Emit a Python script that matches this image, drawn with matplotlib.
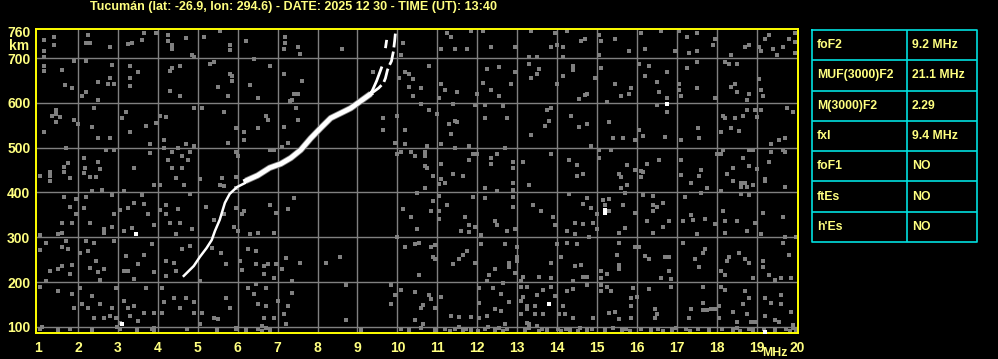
import matplotlib
matplotlib.use("Agg")
import matplotlib.pyplot as plt

plt.rcParams['font.family'] = ['Liberation Sans', 'DejaVu Sans']

title = "Tucumán (lat: -26.9, lon: 294.6) - DATE: 2025 12 30 - TIME (UT): 13:40"

freq_ticks = list(range(1, 21))
height_ticks = [100, 200, 300, 400, 500, 600, 700, 760]

# main echo trace (MHz, km)
trace_low_mhz = [4.65, 4.9, 5.05, 5.22, 5.35, 5.43, 5.55, 5.68, 5.8, 5.98, 6.18]
trace_low_km = [214, 236, 256, 276, 294, 314, 339, 377, 397, 412, 421]
trace_mid_mhz = [6.2, 6.5, 6.8, 7.08, 7.33, 7.58, 7.83, 8.08, 8.33, 8.58, 8.83, 9.08, 9.33]
trace_mid_km = [426, 438, 455, 464, 477, 495, 521, 544, 566, 577, 588, 604, 620]
branch_o_mhz = [9.33, 9.38, 9.48, 9.55, 9.6]
branch_o_km = [620, 629, 649, 666, 678]
branch_o_top_mhz = [9.7, 9.73, 9.75]
branch_o_top_km = [722, 740, 760]
branch_x_mhz = [9.33, 9.53, 9.65, 9.7, 9.75, 9.8, 9.85, 9.9, 9.93, 9.95]
branch_x_km = [620, 633, 644, 655, 673, 684, 693, 715, 738, 756]

# scattered interference dots (MHz, km)
noise_top_left = [
    (1.15, 740), (1.4, 747), (1.4, 729), (1.15, 715), (1.15, 702), (2.25, 751), (2.2, 733), (2.3, 733),
    (2.8, 724), (3.25, 731), (3.35, 733), (3.6, 740), (3.65, 756), (3.95, 756), (4.25, 751), (4.25, 738),
    (4.35, 729), (4.35, 720), (4.7, 744), (4.85, 707), (4.9, 702), (5.15, 747), (5.55, 760), (5.8, 729),
    (5.8, 718), (6.2, 738), (7.18, 747), (7.18, 733), (7.15, 720),
    (1.15, 682), (1.15, 671), (1.6, 673), (1.9, 693), (2.2, 693), (2.85, 684), (2.5, 646), (2.8, 655),
    (2.75, 642), (2.9, 642), (1.68, 640), (1.85, 633), (2.1, 615), (2.2, 624), (2.5, 606), (3.3, 682),
    (3.5, 669), (3.3, 655), (3.3, 637), (4.35, 678), (4.55, 682), (4.3, 671), (4.3, 626), (4.55, 615),
    (5.3, 686), (5.4, 691), (5.85, 660), (5.8, 664), (5.85, 649), (5.5, 635), (5.75, 615), (6.4, 698),
    (6.3, 640), (6.8, 682), (6.5, 611), (7.15, 664), (7.3, 604),
    (1.45, 584), (1.35, 571), (1.45, 575), (1.55, 568), (1.45, 557), (1.9, 562), (2.0, 553), (1.15, 535),
    (2.4, 588), (2.35, 546), (2.5, 521), (2.8, 521), (3.2, 579), (3.1, 566), (3.3, 535), (3.7, 548),
    (3.95, 555), (3.8, 508), (4.2, 568), (4.05, 571), (4.15, 517), (4.9, 588), (4.9, 504), (4.7, 508),
    (5.1, 588), (5.65, 579), (5.95, 544), (5.75, 510), (6.15, 535), (6.15, 517), (6.5, 544), (6.7, 571),
    (6.75, 562), (7.15, 546), (7.25, 510), (7.1, 501),
    (1.7, 499), (2.15, 477), (1.75, 466), (1.65, 457), (1.65, 446), (1.3, 446), (1.3, 437), (1.05, 437),
    (1.8, 432), (2.18, 455), (2.15, 443), (2.3, 435), (2.45, 435), (2.5, 468), (2.55, 452), (2.7, 495),
    (2.9, 495), (3.4, 455), (3.8, 488), (4.15, 499), (4.35, 490), (4.25, 472), (4.35, 455), (4.6, 481),
    (4.8, 490), (4.75, 472), (4.6, 455), (4.5, 499), (4.45, 432), (5.05, 430), (5.6, 432), (5.95, 490),
    (5.95, 435), (6.0, 481), (6.8, 495), (6.9, 495),
]
noise_top_mid = [
    (7.5, 724), (7.55, 709), (8.6, 720), (10.15, 733), (10.1, 707), (11.25, 756), (11.35, 747), (11.85, 760),
    (12.15, 760), (11.45, 720), (11.75, 720), (11.1, 720), (12.35, 724), (12.95, 724), (13.35, 760),
    (9.4, 669), (7.6, 649), (7.4, 620), (7.5, 620), (7.35, 606), (10.2, 669), (10.3, 664), (10.4, 653),
    (10.3, 635), (10.05, 655), (10.6, 633), (10.4, 615), (10.8, 682), (11.1, 642), (11.2, 629), (11.5, 624),
    (11.05, 611), (12.25, 675), (12.55, 680), (12.15, 644), (12.35, 629), (12.55, 615), (12.85, 642),
    (12.95, 669), (13.3, 702), (13.5, 702), (13.3, 686), (13.55, 675), (13.5, 664), (13.35, 655), (12.0, 620),
    (7.45, 588), (7.5, 562), (9.65, 566), (9.65, 539), (10.0, 571), (10.2, 539), (10.6, 597), (10.8, 584),
    (11.0, 575), (11.3, 553), (11.45, 559), (11.5, 557), (11.4, 597), (11.35, 530), (11.95, 595), (12.2, 595),
    (12.2, 566), (12.65, 593), (12.75, 566), (13.35, 528), (9.95, 510), (10.2, 508), (10.75, 504),
    (11.1, 508), (11.8, 504),
    (10.1, 490), (10.35, 490), (10.45, 481), (10.7, 490), (10.7, 481), (10.0, 486), (10.7, 459), (10.75, 455),
    (10.9, 437), (11.1, 463), (11.4, 441), (11.65, 437), (11.45, 499), (11.9, 486), (11.8, 472), (12.0, 486),
    (12.35, 477), (12.35, 463), (12.5, 486), (12.7, 499), (12.9, 468), (12.9, 455), (13.15, 468), (11.1, 430),
]
noise_top_right = [
    (13.95, 756), (14.25, 760), (14.15, 724), (13.85, 724), (14.0, 729), (14.15, 702), (14.6, 738),
    (14.7, 742), (15.05, 751), (15.1, 738), (15.05, 707), (15.45, 742), (15.8, 715), (16.1, 756), (16.2, 720),
    (16.6, 760), (16.95, 715), (17.05, 760), (17.25, 747), (17.5, 756), (17.3, 711), (17.5, 715), (17.95, 742),
    (17.9, 729), (18.35, 707), (18.7, 724), (18.8, 729), (19.1, 715), (19.2, 742), (19.3, 751), (19.4, 720),
    (19.65, 724), (19.5, 707), (19.8, 742), (19.95, 756), (19.95, 736), (19.95, 711), (19.05, 724),
    (14.4, 682), (14.4, 673), (14.15, 660), (14.0, 642), (14.95, 655), (15.1, 678), (14.55, 608), (14.7, 617),
    (14.75, 620), (15.45, 642), (15.6, 615), (15.85, 633), (15.8, 620), (15.25, 602), (16.05, 686),
    (16.3, 682), (16.2, 660), (16.5, 646), (16.55, 624), (16.75, 669), (16.75, 611), (17.05, 642),
    (17.05, 629), (17.1, 615), (17.25, 678), (17.5, 691), (17.5, 633), (17.95, 611), (18.2, 691), (18.3, 686),
    (18.5, 686), (18.35, 635), (18.45, 642), (18.5, 624), (18.8, 620), (18.75, 606), (19.05, 653),
    (19.1, 629), (19.15, 615),
    (13.85, 588), (13.75, 584), (13.8, 559), (13.7, 548), (14.35, 571), (14.55, 546), (14.75, 553),
    (15.3, 557), (15.4, 521), (15.65, 521), (15.95, 517), (16.05, 539), (16.15, 526), (16.5, 595),
    (16.75, 579), (16.7, 524), (17.1, 517), (17.53, 544), (17.55, 521), (18.1, 535), (18.15, 571), (18.2, 566),
    (18.35, 544), (18.45, 566), (18.55, 537), (18.65, 571), (18.75, 584), (18.95, 584), (19.0, 568),
    (19.1, 584), (19.35, 508), (19.55, 517), (19.7, 521), (19.75, 588), (19.9, 579),
    (13.85, 486), (14.3, 472), (14.5, 461), (14.5, 437), (14.65, 441), (14.85, 504), (15.05, 495),
    (15.05, 477), (15.35, 495), (15.75, 461), (15.55, 441), (15.6, 435), (15.95, 450), (16.1, 448),
    (16.15, 446), (16.1, 435), (16.25, 463), (16.55, 472), (17.1, 472), (17.1, 439), (17.6, 450), (17.55, 437),
    (18.0, 486), (18.15, 495), (18.1, 486), (18.4, 455), (18.25, 441), (18.65, 477), (18.8, 495), (18.9, 495),
    (18.8, 459), (19.0, 452), (19.2, 430), (19.3, 468), (19.35, 490), (19.65, 495), (19.7, 490),
]
noise_low_left = [
    (1.3, 426), (2.35, 403), (2.6, 406), (3.9, 417), (4.05, 417), (4.65, 417), (5.55, 417), (5.65, 414),
    (5.95, 410), (1.65, 390), (1.95, 385), (2.2, 390), (2.85, 394), (3.15, 403), (3.6, 394), (1.8, 368),
    (2.15, 365), (1.95, 352), (1.6, 332), (1.85, 332), (1.5, 307), (1.6, 310), (1.05, 305), (2.3, 332),
    (2.65, 319), (2.65, 310), (2.9, 352), (2.85, 323), (3.05, 361), (3.25, 365), (3.4, 377), (3.65, 374),
    (3.75, 352), (3.15, 314), (3.35, 321), (3.9, 327), (4.2, 372), (4.05, 361), (4.2, 352), (4.3, 332),
    (4.5, 363), (4.8, 397), (4.55, 332), (4.45, 307), (4.85, 319), (5.2, 368), (5.4, 339), (5.65, 352),
    (5.95, 365), (5.9, 323), (6.0, 314), (6.15, 359), (6.1, 352), (6.3, 307), (6.5, 310), (6.8, 372),
    (6.95, 354), (7.25, 363), (6.9, 310),
    (1.05, 272), (1.2, 287), (1.7, 292), (1.6, 278), (1.75, 274), (1.3, 225), (1.5, 229), (1.6, 236),
    (1.85, 238), (1.8, 218), (2.05, 265), (2.25, 269), (2.2, 292), (2.4, 287), (2.45, 247), (2.3, 232),
    (2.5, 223), (2.65, 229), (2.55, 205), (2.9, 292), (3.2, 258), (3.15, 225), (3.25, 225), (3.5, 240),
    (3.65, 261), (3.9, 223), (3.4, 207), (3.85, 285), (4.2, 247), (4.4, 243), (4.2, 214), (4.6, 274),
    (4.8, 281), (4.45, 225), (5.05, 203), (5.35, 276), (5.58, 265), (5.7, 240), (6.05, 247), (6.1, 227),
    (6.25, 274), (6.45, 269), (6.45, 240), (6.65, 236), (6.75, 240), (6.95, 240), (6.65, 218), (6.9, 209),
    (7.2, 254), (7.1, 229),
    (1.05, 189), (1.2, 203), (1.5, 180), (1.85, 174), (1.9, 142), (2.05, 187), (2.1, 151), (2.25, 142),
    (2.35, 169), (2.55, 151), (2.4, 120), (2.65, 120), (2.8, 125), (2.95, 187), (2.85, 142), (2.95, 120),
    (3.05, 109), (3.15, 158), (3.25, 142), (3.4, 147), (3.3, 125), (3.5, 113), (3.7, 187), (3.65, 131),
    (3.9, 131), (3.9, 98), (4.1, 187), (4.15, 156), (4.1, 131), (4.4, 165), (4.55, 142), (4.7, 165),
    (4.9, 156), (4.9, 131), (5.1, 131), (5.05, 107), (5.4, 120), (5.5, 118), (5.7, 165), (5.8, 142),
    (5.95, 96), (6.25, 187), (6.45, 196), (6.4, 174), (6.7, 187), (6.5, 151), (6.7, 147), (6.65, 120),
    (6.9, 120), (6.6, 102), (7.0, 158), (7.15, 129), (7.25, 147), (7.2, 107),
]
noise_low_mid = [
    (7.4, 388), (10.7, 410), (10.5, 399), (11.05, 419), (11.2, 421), (11.05, 392), (10.9, 381), (11.25, 372),
    (10.85, 359), (11.05, 359), (10.15, 363), (10.35, 345), (11.05, 341), (11.7, 345), (11.8, 327),
    (11.9, 390), (11.95, 323), (11.6, 314), (11.8, 312), (12.1, 305), (12.2, 410), (12.2, 388), (12.5, 403),
    (12.45, 336), (12.5, 327), (12.75, 314), (12.9, 421), (12.9, 406), (12.9, 390), (12.9, 368), (12.95, 319),
    (13.3, 417), (13.4, 372), (13.6, 359), (10.5, 319), (10.0, 301),
    (7.55, 243), (8.2, 243), (8.55, 256), (10.2, 278), (10.45, 285), (10.55, 287), (10.85, 278), (10.95, 283),
    (10.9, 256), (10.95, 252), (11.65, 261), (11.75, 269), (11.55, 252), (11.4, 240), (11.95, 243),
    (12.1, 285), (12.7, 285), (13.0, 278), (13.0, 256), (13.0, 247), (12.8, 243), (12.8, 234), (12.95, 220),
    (12.45, 229), (12.3, 216), (12.25, 203), (10.55, 216), (13.15, 212), (13.55, 212), (13.1, 203), (7.35, 203),
    (7.35, 176), (8.7, 194), (9.85, 194), (9.95, 171), (9.85, 151), (10.1, 183), (10.45, 178), (10.8, 171),
    (10.85, 162), (10.65, 149), (10.6, 142), (10.95, 142), (10.45, 116), (10.65, 107), (11.1, 167),
    (11.35, 125), (11.55, 122), (11.85, 122), (12.05, 187), (12.05, 154), (12.05, 120), (12.25, 125),
    (12.4, 187), (12.45, 140), (12.6, 174), (12.6, 136), (12.8, 156), (12.7, 107), (12.65, 198), (13.1, 189),
    (13.25, 189), (13.5, 171), (13.15, 167), (13.1, 158), (13.25, 147), (13.25, 140), (13.1, 129),
    (13.45, 147), (13.45, 129), (13.65, 183), (13.65, 129), (13.25, 109), (13.3, 107), (13.5, 102), (8.7, 116),
]
noise_low_right = [
    (15.75, 417), (15.6, 410), (15.7, 399), (17.35, 421), (17.75, 410), (18.4, 426), (18.6, 421), (18.7, 421),
    (18.6, 412), (18.75, 412), (18.9, 417), (19.2, 426), (19.7, 412), (18.1, 403), (17.6, 399),
    (14.3, 397), (14.75, 388), (14.65, 374), (14.85, 365), (13.9, 345), (13.95, 327), (14.45, 332),
    (14.65, 330), (14.25, 314), (14.45, 307), (14.8, 301), (15.0, 352), (14.9, 332), (15.0, 319), (15.15, 383),
    (15.3, 385), (15.2, 372), (15.3, 359), (15.65, 372), (15.95, 354), (15.7, 321), (15.55, 310), (16.15, 394),
    (16.4, 392), (16.4, 372), (16.5, 368), (16.65, 377), (16.4, 359), (16.25, 336), (16.4, 310), (16.65, 323),
    (16.8, 336), (17.15, 336), (17.2, 390), (17.35, 350), (17.4, 339), (17.7, 341), (17.5, 307), (17.95, 330),
    (18.15, 359), (18.2, 336), (18.2, 310), (18.5, 336), (18.75, 314), (18.6, 397), (18.8, 394), (18.95, 332),
    (19.1, 307), (19.15, 354), (19.65, 345), (19.7, 301), (19.97, 301),
    (13.85, 243), (14.0, 285), (14.1, 256), (14.25, 287), (14.5, 285), (13.85, 209), (14.45, 236), (14.6, 238),
    (14.65, 212), (14.75, 212), (14.4, 203), (15.1, 225), (15.25, 218), (15.1, 209), (15.5, 261), (15.55, 287),
    (15.55, 238), (15.55, 229), (15.95, 278), (16.05, 278), (16.2, 258), (16.3, 252), (16.7, 256), (16.8, 256),
    (16.8, 225), (16.85, 207), (16.6, 209), (17.15, 287), (17.45, 252), (17.55, 234), (17.7, 274), (17.65, 265),
    (18.1, 225), (18.25, 247), (18.3, 256), (18.2, 216), (18.55, 265), (18.7, 252), (18.8, 243), (18.9, 209),
    (19.15, 247), (19.15, 234), (19.3, 216), (19.45, 205), (19.6, 209), (19.65, 287), (19.8, 261), (19.85, 209),
    (13.85, 189), (13.95, 169), (14.15, 147), (14.25, 180), (14.4, 185), (14.75, 194), (14.05, 129), (14.2, 129),
    (14.4, 120), (14.9, 120), (15.1, 194), (15.25, 189), (15.35, 180), (15.1, 180), (15.3, 131), (15.45, 133),
    (15.55, 118), (15.9, 187), (15.85, 165), (15.85, 147), (15.85, 120), (16.0, 167), (16.3, 185), (16.45, 140),
    (16.5, 129), (16.45, 120), (16.85, 189), (17.35, 140), (17.3, 120), (17.65, 189), (17.65, 154), (17.65, 138),
    (17.75, 138), (17.85, 140), (17.95, 140), (18.05, 147), (18.1, 189), (18.2, 183), (18.05, 120), (18.4, 133),
    (18.5, 111), (18.7, 180), (18.8, 165), (18.65, 151), (18.75, 129), (18.85, 111), (18.95, 111), (19.2, 165),
    (19.2, 125), (19.35, 154), (19.45, 116), (19.6, 171), (19.6, 151), (19.55, 111), (19.85, 133), (19.9, 104),
]
# dense interference band at the bottom of the frame
band_mhz = [1.05, 1.1, 1.5, 1.8, 2.35, 2.98, 3.05, 3.48, 3.85, 3.9, 4.72, 5.48, 5.95, 6.2, 6.52, 6.62, 6.72,
            6.8, 9.1, 10.1, 10.28, 10.58, 10.95, 11.18, 11.32, 11.45, 11.55, 11.65, 11.72, 11.85, 12.02,
            12.2, 12.28, 12.45, 12.55, 12.65, 12.75, 13.2, 13.3, 13.55, 13.62, 13.75, 14.02, 14.1, 14.22,
            14.32, 14.52, 14.58, 14.75, 14.88, 15.2, 15.4, 15.62, 15.72, 15.82, 16.1, 16.35, 16.52, 16.65,
            16.88, 16.98, 17.22, 17.32, 17.52, 17.8, 18.12, 18.4, 18.5, 18.58, 18.8, 18.9, 19.18, 19.45,
            19.72, 19.82, 19.9, 19.98]
band_km = [96, 100, 93, 96, 93, 100, 96, 93, 96, 91, 96, 93, 98, 93, 96, 91, 98,
           93, 93, 96, 93, 98, 93, 96, 91, 96, 100, 93, 96, 93, 91,
           96, 100, 93, 98, 91, 96, 93, 98, 91, 96, 93, 96, 91, 96,
           93, 91, 98, 93, 96, 93, 98, 93, 96, 91, 96, 93, 96, 91,
           93, 98, 96, 91, 96, 93, 96, 93, 98, 91, 96, 93, 96, 93,
           96, 91, 98, 93]
# isolated bright dots
bright_mhz = [15.2, 15.2, 16.75, 3.45, 3.1, 13.8, 19.2]
bright_km = [354, 362, 597, 307, 107, 151, 89]

# parameter table
param_names = ["foF2", "MUF(3000)F2", "M(3000)F2", "fxI", "foF1", "ftEs", "h'Es"]
param_values = ["9.2 MHz", "21.1 MHz", "2.29", "9.4 MHz", "NO", "NO", "NO"]

W, H = 998, 359
fig = plt.figure(figsize=(W / 100, H / 100), dpi=100, facecolor="black")
ax = fig.add_axes([36 / W, 1 - 333 / H, 762 / W, 304 / H], facecolor="black")

txt = "#ffff80"
grey = "#808080"

for f in range(2, 20):
    ax.axvline(f, color=grey, lw=1.0, zorder=1)
for h in height_ticks[:-1]:
    ax.axhline(h, color=grey, lw=1.0, zorder=1)

for pts in [noise_top_left, noise_top_mid, noise_top_right, noise_low_left, noise_low_mid, noise_low_right]:
    fx, hy = zip(*pts)
    ax.scatter(fx, hy, marker="s", s=5.5, color=grey, linewidths=0, zorder=2)
ax.scatter(band_mhz, band_km, marker="s", s=9, color=grey, linewidths=0, zorder=2)
ax.scatter(bright_mhz, bright_km, marker="s", s=6, color="white", linewidths=0, zorder=3)

ax.plot(trace_mid_mhz, trace_mid_km, color=grey, lw=4.6, solid_capstyle="butt", zorder=3)
ax.plot(trace_low_mhz, trace_low_km, color="white", lw=1.8, zorder=4)
ax.plot(trace_mid_mhz, trace_mid_km, color="white", lw=3.4, zorder=4)
ax.plot(branch_o_mhz, branch_o_km, color="white", lw=2.0, zorder=4)
ax.plot(branch_o_top_mhz, branch_o_top_km, color="white", lw=2.0, linestyle=(0, (3, 4)), zorder=4)
ax.plot(branch_x_mhz, branch_x_km, color="white", lw=2.0, linestyle=(0, (5, 1.5)), zorder=4)

ax.set_xlim(0.95, 20.03)
ax.set_ylim(86.6, 764.7)
ax.set_xticks(freq_ticks)
ax.set_yticks(height_ticks)
ax.tick_params(length=0, colors=txt, labelsize=10)
ax.tick_params(axis="x", pad=6)
ax.tick_params(axis="y", pad=4)
for lab in ax.get_xticklabels() + ax.get_yticklabels():
    lab.set_fontweight("bold")
for s in ax.spines.values():
    s.set_color("#ffff00")
    s.set_linewidth(1.4)

fig.text(294 / W, 1 - 7 / H, title, color=txt, fontsize=9.0, fontweight="bold",
         ha="center", va="center")
fig.text(19 / W, 1 - 46 / H, "km", color=txt, fontsize=10, fontweight="bold", ha="center", va="center")
fig.text(775 / W, 1 - 353 / H, "MHz", color=txt, fontsize=8.8, fontweight="bold", ha="center", va="center")

# table
tab = fig.add_axes([812 / W, 1 - 242 / H, 165 / W, 212 / H], facecolor="black")
tab.set_xlim(812, 977)
tab.set_ylim(242, 30)
tab.axis("off")
cyan = "#00e0e0"
n = len(param_names)
rh = 212 / n
tab.plot([812, 977, 977, 812, 812], [30, 30, 242, 242, 30], color=cyan, lw=1.2, clip_on=False)
tab.plot([907, 907], [30, 242], color=cyan, lw=1.2)
for i in range(1, n):
    tab.plot([812, 977], [30 + i * rh, 30 + i * rh], color=cyan, lw=1.2)
for i, (name, val) in enumerate(zip(param_names, param_values)):
    yc = 30 + (i + 0.5) * rh
    tab.text(817, yc, name, color=txt, fontsize=8.8, fontweight="bold", va="center", ha="left")
    tab.text(912, yc, val, color=txt, fontsize=8.8, fontweight="bold", va="center", ha="left")

fig.savefig("out.png", dpi=100, facecolor="black")
